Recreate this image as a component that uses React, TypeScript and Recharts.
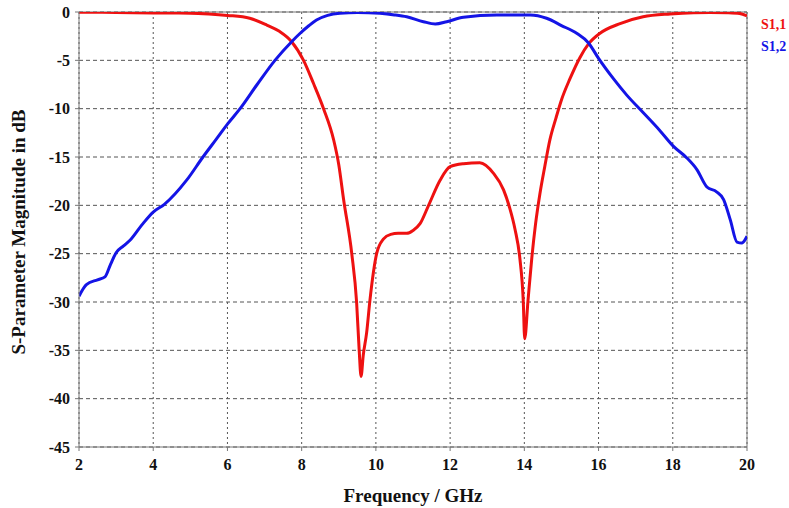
import { LineChart, Line, XAxis, YAxis, CartesianGrid, ReferenceLine, Label } from "recharts";

const xTicks = [2, 4, 6, 8, 10, 12, 14, 16, 18, 20];
const yTicks = [0, -5, -10, -15, -20, -25, -30, -35, -40, -45];

const s11Freq = [2, 3, 4, 5, 5.5, 6, 6.6, 7.06, 7.4, 7.73, 8.05, 8.32, 8.59, 8.86, 9.0, 9.13, 9.35, 9.48, 9.55, 9.6, 9.66, 9.75, 9.84, 10.02, 10.2, 10.4, 10.6, 10.83, 11.0, 11.19, 11.42, 11.73, 12.0, 12.36, 12.8, 13.17, 13.44, 13.6, 13.75, 13.88, 13.97, 14.01, 14.1, 14.2, 14.3, 14.42, 14.55, 14.69, 14.85, 15.0, 15.23, 15.5, 15.73, 16.04, 16.58, 17.2, 17.93, 18.56, 19.0, 19.5, 19.8, 20];
const s11Vals = [-0.02, -0.05, -0.1, -0.12, -0.2, -0.35, -0.65, -1.35, -2.0, -3.07, -5, -7.4, -10, -13.2, -15.8, -19.4, -25, -30, -35, -37.7, -35.5, -33.2, -29.8, -25, -23.5, -23, -22.9, -22.9, -22.6, -21.9, -20, -17.4, -16, -15.7, -15.6, -16.7, -18.4, -20.2, -22.5, -25.5, -29.8, -33.8, -29.8, -25.5, -22, -18.8, -16, -13.2, -11, -9.1, -6.9, -4.7, -3.3, -2.2, -1.2, -0.5, -0.2, -0.07, -0.05, -0.08, -0.15, -0.4];

const s12Freq = [2, 2.2, 2.5, 2.7, 2.85, 3.0, 3.2, 3.4, 3.7, 4.0, 4.3, 4.9, 5.34, 5.71, 6.0, 6.34, 6.8, 7.28, 7.73, 7.96, 8.2, 8.4, 8.7, 9.03, 9.5, 10.11, 10.5, 10.83, 11.28, 11.6, 11.91, 12.36, 13.26, 14.16, 14.6, 15.0, 15.41, 15.73, 16.0, 16.4, 16.76, 17.2, 17.66, 18.02, 18.38, 18.65, 18.92, 19.18, 19.37, 19.55, 19.73, 19.86, 20];
const s12Vals = [-29.4, -28.2, -27.7, -27.4, -26.1, -24.9, -24.2, -23.5, -22, -20.7, -19.9, -17.4, -15, -13.1, -11.6, -10, -7.5, -5, -3.07, -2.2, -1.4, -0.83, -0.35, -0.13, -0.05, -0.14, -0.3, -0.5, -1.0, -1.24, -1.0, -0.55, -0.31, -0.31, -0.65, -1.4, -2.2, -3.2, -4.8, -6.9, -8.6, -10.4, -12.3, -13.9, -15.1, -16.3, -18.1, -18.6, -19.4, -21.5, -23.8, -23.9, -23.2];

const s11Data = s11Freq.map((f, i) => ({ f, v: s11Vals[i] }));
const s12Data = s12Freq.map((f, i) => ({ f, v: s12Vals[i] }));

const font = "'Liberation Serif', 'Times New Roman', serif";
const tickStyle = { fontSize: 16, fontWeight: 700, fill: "#111", fontFamily: font };
const labelStyle = { fontSize: 19, fontWeight: 700, fill: "#111", fontFamily: font };

export default function App() {
  return (
    <div style={{ position: "absolute", left: 0, top: 0, width: 789, height: 508, background: "#fff" }}>
      <LineChart width={789} height={508} margin={{ top: 12, right: 42, left: 0, bottom: 0 }}>
        <CartesianGrid horizontal={true} vertical={false} stroke="#555" strokeDasharray="4 3" />
        <CartesianGrid horizontal={false} vertical={true} stroke="#555" strokeDasharray="2 3" />
        <XAxis
          dataKey="f"
          type="number"
          domain={[2, 20]}
          ticks={xTicks}
          allowDataOverflow
          height={61}
          stroke="#777"
          tickSize={4}
          tickMargin={8}
          tick={tickStyle}
        >
          <Label value="Frequency / GHz" position="insideBottom" offset={6} style={labelStyle} />
        </XAxis>
        <YAxis
          type="number"
          domain={[-45, 0]}
          ticks={yTicks}
          allowDataOverflow
          width={79}
          stroke="#777"
          tickSize={4}
          tickMargin={5}
          tick={tickStyle}
        >
          <Label
            content={() => (
              <text x={18} y={232} transform="rotate(-90 18 232)" textAnchor="middle" dominantBaseline="central" style={labelStyle}>
                S-Parameter Magnitude in dB
              </text>
            )}
          />
        </YAxis>
        <ReferenceLine y={0} stroke="#777" strokeWidth={1} />
        <ReferenceLine x={20} stroke="#777" strokeWidth={1} />
        <Line data={s11Data} dataKey="v" type="monotone" stroke="#ee1111" strokeWidth={3} dot={false} isAnimationActive={false} />
        <Line data={s12Data} dataKey="v" type="monotone" stroke="#1414e6" strokeWidth={3} dot={false} isAnimationActive={false} />
      </LineChart>
      <div style={{ position: "absolute", left: 761, top: 17, fontFamily: font, fontWeight: 700, fontSize: 14, color: "#ee1111" }}>S1,1</div>
      <div style={{ position: "absolute", left: 761, top: 39, fontFamily: font, fontWeight: 700, fontSize: 14, color: "#1414e6" }}>S1,2</div>
    </div>
  );
}
